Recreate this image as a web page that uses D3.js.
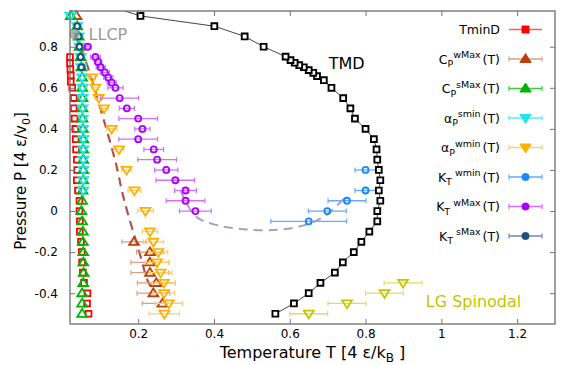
<!DOCTYPE html>
<html>
<head>
<meta charset="utf-8">
<script src="https://cdn.jsdelivr.net/npm/d3@7"></script>
<style>
body { margin: 0; background: #fff; }
svg { font-family: "DejaVu Sans", sans-serif; }
</style>
</head>
<body>
<div class="chart"></div>
<script>
// ---- data (T in 4eps/kB, P in 4eps/v0) ----
var tmdT = [0.562,0.611,0.650,0.681,0.719,0.740,0.769,0.789,0.810,0.831,0.831,0.839,0.835,0.839,0.835,0.831,0.829,0.822,0.800,0.772,0.760,0.741,0.710,0.690,0.672,0.662,0.650,0.637,0.625,0.613,0.602,0.589,0.531,0.481,0.401,0.206,0.120];
var tmdP = [-0.50,-0.45,-0.40,-0.35,-0.30,-0.25,-0.20,-0.15,-0.10,-0.05,0.00,0.05,0.10,0.15,0.20,0.25,0.30,0.35,0.40,0.45,0.50,0.55,0.60,0.637,0.657,0.673,0.686,0.70,0.71,0.722,0.735,0.752,0.80,0.85,0.90,0.95,1.00];

var tminT = [0.020,0.020,0.021,0.022,0.022,0.026,0.030,0.030,0.032,0.034,0.035,0.036,0.038,0.039,0.038,0.041,0.045,0.045,0.046,0.046,0.049,0.051,0.052,0.054,0.057,0.066,0.065,0.069];
var tminP = [0.75,0.72,0.69,0.66,0.63,0.60,0.55,0.50,0.45,0.40,0.35,0.30,0.25,0.20,0.15,0.10,0.05,0.00,-0.05,-0.10,-0.15,-0.20,-0.25,-0.30,-0.35,-0.40,-0.45,-0.50];

var cpwT = [0.037,0.189,0.231,0.231,0.231,0.248,0.240,0.264];
var cpwP = [0.95,-0.15,-0.20,-0.25,-0.30,-0.35,-0.40,-0.45];
var cpwErr = [0,0.032,0.035,0.05,0.05,0.05,0.043,0.053];

var cpsT = [0.022,0.039,0.043,0.045,0.048,0.050,0.052,0.052,0.053,0.053,0.053,0.054,0.055,0.055,0.055,0.055,0.055,0.053,0.052,0.050,0.052,0.054,0.054,0.055,0.055,0.056,0.055,0.052,0.052,0.052];
var cpsP = [0.95,0.90,0.85,0.80,0.75,0.70,0.65,0.60,0.55,0.50,0.45,0.40,0.35,0.30,0.25,0.20,0.15,0.10,0.05,0.00,-0.05,-0.10,-0.15,-0.20,-0.25,-0.30,-0.35,-0.40,-0.45,-0.50];

var apsT = [0.021,0.039,0.043,0.045,0.048,0.050,0.052,0.053,0.053,0.053,0.054,0.054,0.055,0.055,0.055,0.055,0.055,0.055];
var apsP = [0.95,0.90,0.85,0.80,0.75,0.70,0.65,0.60,0.55,0.50,0.45,0.40,0.35,0.30,0.25,0.20,0.15,0.10];

var apwT = [0.079,0.087,0.096,0.110,0.130,0.149,0.169,0.190,0.219,0.231,0.240,0.253,0.250,0.259,0.268,0.268,0.281,0.269];
var apwP = [0.65,0.60,0.55,0.50,0.40,0.30,0.20,0.10,0.00,-0.10,-0.15,-0.20,-0.25,-0.30,-0.35,-0.40,-0.45,-0.50];
var apwErr = [0.008,0.008,0.01,0.01,0.014,0.013,0.013,0.017,0.021,0.02,0.026,0.025,0.03,0.03,0.03,0.028,0.036,0.04];

var ktwT = [0.800,0.800,0.751,0.699,0.650];
var ktwP = [0.20,0.10,0.05,0.00,-0.05];
var ktwErr = [0.028,0.028,0.05,0.05,0.1];

var ktmT = [0.067,0.087,0.094,0.101,0.112,0.121,0.130,0.140,0.151,0.170,0.200,0.211,0.200,0.241,0.250,0.274,0.298,0.325,0.325,0.351];
var ktmP = [0.80,0.75,0.726,0.70,0.675,0.65,0.625,0.60,0.55,0.50,0.45,0.40,0.35,0.30,0.25,0.20,0.15,0.10,0.05,0.00];
var ktmErr = [0.008,0.013,0.01,0.012,0.012,0.012,0.012,0.02,0.05,0.02,0.051,0.02,0.051,0.026,0.051,0.031,0.051,0.029,0.051,0.042];

var ktsT = [0.039,0.043,0.045,0.048,0.050];
var ktsP = [0.90,0.85,0.80,0.75,0.70];

var lgT = [0.650,0.751,0.850,0.899];
var lgP = [-0.50,-0.45,-0.40,-0.35];
var lgErr = [0.05,0.05,0.05,0.05];

var widomT = [0.032,0.056,0.100,0.140,0.162,0.206,0.224,0.238];
var widomP = [0.86,0.76,0.50,0.24,0.06,-0.22,-0.335,-0.385];

var ktLineT = [0.312,0.351,0.400,0.488,0.575,0.646,0.699,0.747,0.756];
var ktLineP = [0.098,-0.025,-0.065,-0.090,-0.090,-0.065,-0.016,0.066,0.074];

var llcpT = 0.032, llcpP = 0.861;

var xTicks = [0.2,0.4,0.6,0.8,1,1.2];
var yTicks = [-0.4,-0.2,0,0.2,0.4,0.6,0.8];

// ---- layout ----
var svgWidth = 570;
var svgHeight = 365;
var margin = {top: 11, right: 15, bottom: 41, left: 70};
var width = svgWidth - margin.left - margin.right;
var height = svgHeight - margin.top - margin.bottom;

var svg = d3.select(".chart")
  .append("svg")
  .attr("width", svgWidth)
  .attr("height", svgHeight);

var chartGroup = svg.append("g")
  .attr("transform", `translate(${margin.left}, ${margin.top})`);

var x = d3.scaleLinear().domain([0.02, 1.3]).range([0, width]);
var y = d3.scaleLinear().domain([-0.55, 0.974]).range([height, 0]);

svg.append("defs").append("clipPath").attr("id", "plotclip")
  .append("rect").attr("width", width).attr("height", height);

function zip(ts, ps, errs) {
  return ts.map(function(t, i) { return {t: t, p: ps[i], e: errs ? errs[i] : 0}; });
}

// marker shapes
function shape(type, s) {
  if (type == "square") {
    return "M" + (-s) + "," + (-s) + "H" + s + "V" + s + "H" + (-s) + "Z";
  }
  if (type == "up") {
    return "M0," + (-s * 1.15) + "L" + (s * 1.2) + "," + (s * 0.75) + "L" + (-s * 1.2) + "," + (s * 0.75) + "Z";
  }
  if (type == "down") {
    return "M0," + (s * 1.15) + "L" + (s * 1.2) + "," + (-s * 0.75) + "L" + (-s * 1.2) + "," + (-s * 0.75) + "Z";
  }
  // circle
  return d3.symbol(d3.symbolCircle, Math.PI * s * s)();
}

// ---- guide lines ----
chartGroup.append("path")
  .datum(zip(ktLineT, ktLineP))
  .attr("d", d3.line().x(d => x(d.t)).y(d => y(d.p)).curve(d3.curveCatmullRom))
  .attr("fill", "none")
  .attr("stroke", "#a99cc6")
  .attr("stroke-width", 2)
  .attr("stroke-dasharray", "9,6");

chartGroup.append("path")
  .datum(zip(widomT, widomP))
  .attr("d", d3.line().x(d => x(d.t)).y(d => y(d.p)).curve(d3.curveCatmullRom))
  .attr("fill", "none")
  .attr("stroke", "#b5514b")
  .attr("stroke-width", 2.2)
  .attr("stroke-dasharray", "9,6");

// ---- series ----
function drawSeries(data, o) {
  var g = chartGroup.append("g");
  var withErr = data.filter(d => d.e > 0);
  g.selectAll("line.eb").data(withErr).enter().append("line")
    .attr("x1", d => x(d.t - d.e)).attr("x2", d => x(d.t + d.e))
    .attr("y1", d => y(d.p)).attr("y2", d => y(d.p))
    .attr("stroke", o.bar).attr("stroke-width", 1.3);
  [-1, 1].forEach(function(sgn) {
    g.selectAll("line.cap" + sgn).data(withErr).enter().append("line")
      .attr("x1", d => x(d.t + sgn * d.e)).attr("x2", d => x(d.t + sgn * d.e))
      .attr("y1", d => y(d.p) - 2.5).attr("y2", d => y(d.p) + 2.5)
      .attr("stroke", o.bar).attr("stroke-width", 1.2);
  });
  g.selectAll("path").data(data.filter(d => d.p <= 0.974)).enter().append("path")
    .attr("d", shape(o.type, o.size))
    .attr("transform", d => `translate(${x(d.t)},${y(d.p)})`)
    .attr("fill", o.fill || "none")
    .attr("stroke", o.color)
    .attr("stroke-width", o.sw || 1.8);
}

var series = [
  {data: zip(tminT, tminP), type: "square", size: 2.9, color: "#ff0000", bar: "#ff5a5a", fill: "#fff", noCap: true,
   label: {main: "TminD"}},
  {data: zip(cpwT, cpwP, cpwErr), type: "up", size: 4.1, color: "#bb3f0c", bar: "#daa084",
   label: {main: "C", sub: "P", sup: "wMax", tail: "(T)"}},
  {data: zip(cpsT, cpsP), type: "up", size: 4.1, color: "#00b400", bar: "#3ccc3c",
   label: {main: "C", sub: "P", sup: "sMax", tail: "(T)"}},
  {data: zip(apsT, apsP), type: "down", size: 4.1, color: "#1ee4f0", bar: "#5aeef6",
   label: {main: "\u03b1", sub: "P", sup: "smin", tail: "(T)"}},
  {data: zip(apwT, apwP, apwErr), type: "down", size: 4.1, color: "#ffb000", bar: "#ffcf6a",
   label: {main: "\u03b1", sub: "P", sup: "wmin", tail: "(T)"}},
  {data: zip(ktwT, ktwP, ktwErr), type: "circle", size: 3, color: "#1a86ff", bar: "#66aaff",
   label: {main: "K", sub: "T", sup: " wmin", tail: "(T)"}},
  {data: zip(ktmT, ktmP, ktmErr), type: "circle", size: 3, color: "#aa00ff", bar: "#cf70ff",
   label: {main: "K", sub: "T", sup: " wMax", tail: "(T)"}},
  {data: zip(ktsT, ktsP), type: "circle", size: 3, color: "#1f4f7a", bar: "#6a8cae",
   label: {main: "K", sub: "T", sup: " sMax", tail: "(T)"}}
];

series.forEach(function(s) { drawSeries(s.data, s); });

// LG spinodal
drawSeries(zip(lgT, lgP, lgErr), {type: "down", size: 4.1, color: "#c4c400", bar: "#dcdc6e"});

// TMD
chartGroup.append("path")
  .datum(zip(tmdT, tmdP))
  .attr("d", d3.line().x(d => x(d.t)).y(d => y(d.p)))
  .attr("clip-path", "url(#plotclip)")
  .attr("fill", "none")
  .attr("stroke", "#444")
  .attr("stroke-width", 1);
drawSeries(zip(tmdT, tmdP), {type: "square", size: 2.9, color: "#000", bar: "#000", fill: "#fff", sw: 1.9});

// LLCP
chartGroup.append("circle")
  .attr("cx", x(llcpT)).attr("cy", y(llcpP)).attr("r", 5.5)
  .attr("fill", "#999").attr("fill-opacity", 0.75);

// ---- annotations ----
chartGroup.append("text").attr("x", x(llcpT) + 14).attr("y", y(llcpP) + 6)
  .attr("font-size", 16).attr("fill", "#999").text("LLCP");
chartGroup.append("text").attr("x", x(0.703)).attr("y", y(0.69))
  .attr("font-size", 16).attr("fill", "#000").text("TMD");
chartGroup.append("text").attr("x", x(0.959)).attr("y", y(-0.465))
  .attr("font-size", 16).attr("fill", "#c4c400").text("LG Spinodal");

// ---- axes (ticks inward on all four sides) ----
var fmt = d => String(d);
var axes = [
  chartGroup.append("g").attr("transform", `translate(0,${height})`)
    .call(d3.axisBottom(x).tickValues(xTicks).tickFormat(fmt).tickSizeInner(-5).tickSizeOuter(0).tickPadding(5)),
  chartGroup.append("g")
    .call(d3.axisTop(x).tickValues(xTicks).tickFormat("").tickSizeInner(-5).tickSizeOuter(0)),
  chartGroup.append("g")
    .call(d3.axisLeft(y).tickValues(yTicks).tickFormat(fmt).tickSizeInner(-5).tickSizeOuter(0).tickPadding(12)),
  chartGroup.append("g").attr("transform", `translate(${width},0)`)
    .call(d3.axisRight(y).tickValues(yTicks).tickFormat("").tickSizeInner(-5).tickSizeOuter(0))
];
axes.forEach(function(a) {
  a.select(".domain").remove();
  a.selectAll("line").attr("stroke", "#777");
  a.selectAll("text").attr("font-size", 12).attr("fill", "#000").attr("font-family", "DejaVu Sans, sans-serif");
});

chartGroup.append("rect")
  .attr("width", width).attr("height", height)
  .attr("fill", "none").attr("stroke", "#777").attr("stroke-width", 1.4);

// axis labels
var xl = svg.append("text")
  .attr("x", margin.left + width / 2).attr("y", 358)
  .attr("text-anchor", "middle").attr("font-size", 16);
xl.append("tspan").text("Temperature T [4 \u03b5/k");
xl.append("tspan").attr("font-size", 12).attr("dy", 4).text("B");
xl.append("tspan").attr("dy", -4).text(" ]");

var yl = svg.append("text")
  .attr("transform", `translate(26,181) rotate(-90)`)
  .attr("text-anchor", "middle").attr("font-size", 15);
yl.append("tspan").text("Pressure P [4 \u03b5/v");
yl.append("tspan").attr("font-size", 11).attr("dy", 4).text("0");
yl.append("tspan").attr("dy", -4).text("]");

// ---- legend ----
var legend = svg.append("g");
series.forEach(function(s, i) {
  var ly = 29.5 + i * 29.5;
  var t = legend.append("text").attr("x", 500).attr("y", ly + 4.5)
    .attr("text-anchor", "end").attr("font-size", 12.5);
  t.append("tspan").text(s.label.main);
  if (s.label.sub) {
    t.append("tspan").attr("font-size", 9.5).attr("dy", 3.5).text(s.label.sub);
    t.append("tspan").attr("font-size", 9.5).attr("dy", -9).text(s.label.sup);
    t.append("tspan").attr("dy", 5.5).attr("dx", 2).text(s.label.tail);
  }
  legend.append("line").attr("x1", 509).attr("x2", 542).attr("y1", ly).attr("y2", ly)
    .attr("stroke", s.bar).attr("stroke-width", 1.3);
  if (!s.noCap) {
    [509, 542].forEach(function(cx) {
      legend.append("line").attr("x1", cx).attr("x2", cx).attr("y1", ly - 2.5).attr("y2", ly + 2.5)
        .attr("stroke", s.bar).attr("stroke-width", 1.2);
    });
  }
  legend.append("path").attr("d", shape(s.type, s.size + 0.6))
    .attr("transform", `translate(525.5,${ly})`)
    .attr("fill", s.color).attr("stroke", s.color).attr("stroke-width", 1);
});
</script>
</body>
</html>
